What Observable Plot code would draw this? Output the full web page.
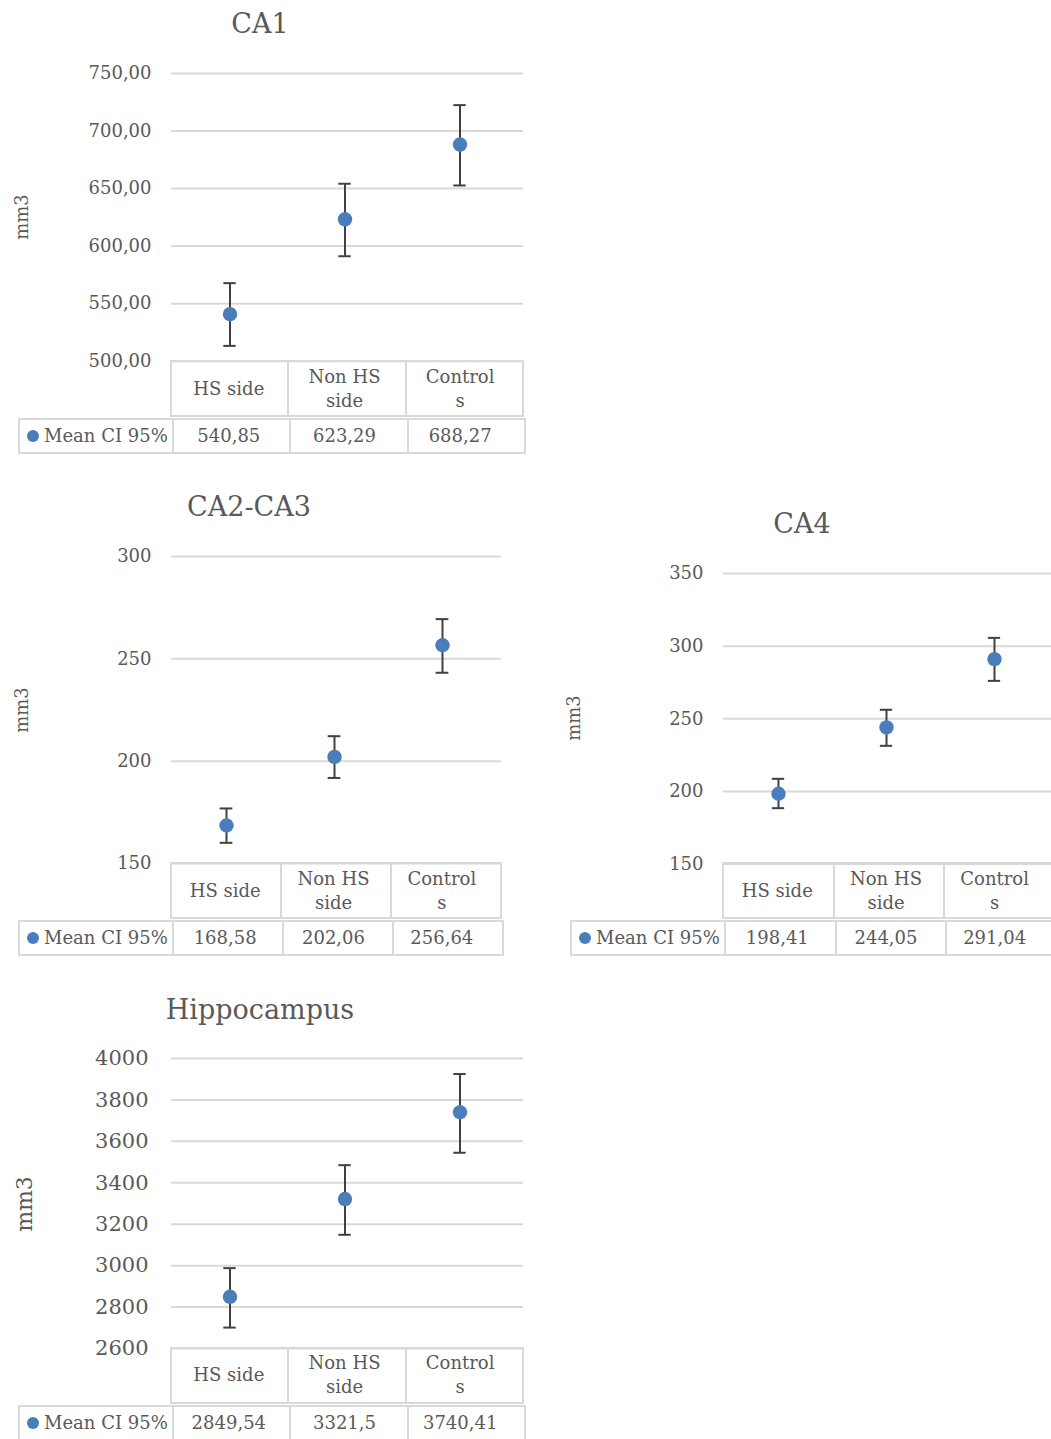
<!DOCTYPE html>
<html>
<head>
<meta charset="utf-8">
<script src="https://cdn.jsdelivr.net/npm/d3@7"></script>
<script src="https://cdn.jsdelivr.net/npm/@observablehq/plot@0.6"></script>
<style>
  body { margin: 0; background: #fff; }
  #root { position: relative; width: 1051px; height: 1439px; overflow: hidden; font-family: "DejaVu Serif", serif; color: #595959; background: #fff; }
  .title { position: absolute; font-size: 27px; line-height: 1; white-space: nowrap; transform: translateX(-50%); }
  .ylab { position: absolute; white-space: nowrap; line-height: 1; transform: translate(-50%, -50%) rotate(-90deg); }
  .cell { position: absolute; box-sizing: border-box; border: 2px solid #d9d9d9; display: flex; align-items: center; justify-content: center; text-align: center; font-size: 18px; line-height: 24px; white-space: pre; }
  .txt { position: absolute; box-sizing: border-box; display: flex; align-items: center; justify-content: center; text-align: center; font-size: 18px; line-height: 24px; white-space: pre; }
  .legend { justify-content: flex-start; padding-left: 7px; }
  .dot { display: inline-block; width: 12px; height: 12px; border-radius: 50%; background: #4a7ebb; margin-right: 5px; }
  .plotwrap { position: absolute; left: 0; }
</style>
</head>
<body>
<div id="root"></div>
<script>
// ---------- data ----------
const categories = ["HS side", "Non HS side", "Controls"];
const headerLabels = ["HS side", "Non HS\nside", "Control\ns"];
const seriesLabel = "Mean CI 95%";
const yLabel = "mm3";

const ca1Mean = [540.85, 623.29, 688.27];
const ca1Low  = [513.3, 591.2, 652.7];
const ca1High = [567.8, 654.2, 722.5];
const ca1Ticks = [500, 550, 600, 650, 700, 750];

const ca23Mean = [168.58, 202.06, 256.64];
const ca23Low  = [160.1, 191.8, 243.2];
const ca23High = [176.9, 212.2, 269.4];
const ca23Ticks = [150, 200, 250, 300];

const ca4Mean = [198.41, 244.05, 291.04];
const ca4Low  = [188.5, 231.4, 276.1];
const ca4High = [208.7, 256.2, 305.7];
const ca4Ticks = [150, 200, 250, 300, 350];

const hipMean = [2849.54, 3321.5, 3740.41];
const hipLow  = [2701, 3149, 3545];
const hipHigh = [2988, 3485, 3925];
const hipTicks = [2600, 2800, 3000, 3200, 3400, 3600, 3800, 4000];

// ---------- formatting ----------
const fmt2 = d => d.toFixed(2).replace(".", ",");
const fmt0 = d => String(d);
const fmtVal = d => String(d).replace(".", ",");

const charts = [
  { title: "CA1", mean: ca1Mean, lo: ca1Low, hi: ca1High, ticks: ca1Ticks, fmt: fmt2 },
  { title: "CA2-CA3", mean: ca23Mean, lo: ca23Low, hi: ca23High, ticks: ca23Ticks, fmt: fmt0 },
  { title: "CA4", mean: ca4Mean, lo: ca4Low, hi: ca4High, ticks: ca4Ticks, fmt: fmt0 },
  { title: "Hippocampus", mean: hipMean, lo: hipLow, hi: hipHigh, ticks: hipTicks, fmt: fmt0 }
];

// ---------- layout ----------
// left/right: grid + table extent; xRight: end of the category scale range; tableRight: table edge
const layouts = [
  { left: 171, right: 523, xRight: 518, tableRight: 523, top: 73.3, bottom: 361, titleX: 260, titleBase: 33, labX: 22, labY: 217, tickFont: 18, labFont: 18, tickPad: 20 },
  { left: 171, right: 501, xRight: 496, tableRight: 501, top: 556.3, bottom: 863.3, titleX: 249, titleBase: 516, labX: 22, labY: 710, tickFont: 18, labFont: 18, tickPad: 20 },
  { left: 723, right: 1051, xRight: 1049, tableRight: 1055, top: 572.7, bottom: 863.3, titleX: 802, titleBase: 533, labX: 574, labY: 718, tickFont: 18, labFont: 18, tickPad: 20 },
  { left: 171, right: 523, xRight: 518, tableRight: 523, top: 1057.7, bottom: 1347.7, titleX: 260, titleBase: 1019, labX: 25, labY: 1204, tickFont: 21, labFont: 22, tickPad: 23 }
];

const root = document.getElementById("root");

function el(cls, styles, html) {
  const d = document.createElement("div");
  d.className = cls;
  Object.assign(d.style, styles);
  if (html != null) d.innerHTML = html;
  root.appendChild(d);
  return d;
}

charts.forEach((c, k) => {
  const L = layouts[k];
  const data = categories.map((cat, i) => ({ cat, mean: c.mean[i], lo: c.lo[i], hi: c.hi[i] }));
  const svgTop = L.top - 20;
  const width = Math.min(1051, L.right + 10);
  const height = (L.bottom - svgTop) + 20;
  const bw = (L.xRight - L.left) / categories.length;
  const capInset = bw / 2 - 6.5;
  const gridExtend = L.right - L.xRight;

  const plot = Plot.plot({
    width, height,
    marginLeft: L.left, marginRight: width - L.xRight, marginTop: 20, marginBottom: 20,
    x: { type: "band", domain: categories, padding: 0, axis: null },
    y: { domain: [c.ticks[0], c.ticks[c.ticks.length - 1]], axis: null },
    style: { fontFamily: "'DejaVu Serif', serif", color: "#595959", background: "transparent", overflow: "visible", maxWidth: "none" },
    marks: [
      Plot.ruleY(c.ticks, { stroke: "#d9d9d9", strokeWidth: 2, insetRight: -gridExtend }),
      Plot.axisY(c.ticks, { tickSize: 0, tickPadding: L.tickPad, tickFormat: c.fmt, fontSize: L.tickFont, label: null, fill: "#595959" }),
      Plot.ruleX(data, { x: "cat", y1: "lo", y2: "hi", stroke: "#404040", strokeWidth: 2 }),
      Plot.tickY(data, { x: "cat", y: "lo", stroke: "#404040", strokeWidth: 2, insetLeft: capInset, insetRight: capInset }),
      Plot.tickY(data, { x: "cat", y: "hi", stroke: "#404040", strokeWidth: 2, insetLeft: capInset, insetRight: capInset }),
      Plot.dot(data, { x: "cat", y: "mean", r: 7.2, fill: "#4a7ebb", stroke: "none" })
    ]
  });

  const wrap = el("plotwrap", { top: svgTop + "px" });
  wrap.appendChild(plot);

  // title and y label
  el("title", { left: L.titleX + "px", top: (L.titleBase - 23) + "px" }, c.title);
  el("ylab", { left: L.labX + "px", top: L.labY + "px", fontSize: L.labFont + "px" }, yLabel);

  // data table: borders on equal columns, text centred on the plot's x scale
  const xs = plot.scale("x");
  const band = d3.scaleBand().domain(xs.domain).range(xs.range).padding(0);
  const cols = d3.scaleBand().domain(categories).range([L.left, L.tableRight]).padding(0);
  const headTop = L.bottom - 1;
  const headH = 57;
  const rowTop = headTop + headH + 1;
  const rowH = 36;
  categories.forEach((cat, i) => {
    const x0 = cols(cat), w = cols.bandwidth();
    const cx = band(cat) + band.bandwidth() / 2;
    el("cell", { left: (x0 - 1) + "px", top: headTop + "px", width: (w + 2) + "px", height: headH + "px" }, "");
    el("cell", { left: (x0 + 1) + "px", top: rowTop + "px", width: (w + 2) + "px", height: rowH + "px" }, "");
    el("txt", { left: (cx - 60) + "px", top: headTop + "px", width: "120px", height: headH + "px" }, headerLabels[i]);
    el("txt", { left: (cx - 60) + "px", top: rowTop + "px", width: "120px", height: rowH + "px" }, fmtVal(c.mean[i]));
  });
  el("cell legend", { left: (L.left - 153) + "px", top: rowTop + "px", width: 156 + "px", height: rowH + "px" },
     '<span class="dot"></span>' + seriesLabel);
});
</script>
</body>
</html>
